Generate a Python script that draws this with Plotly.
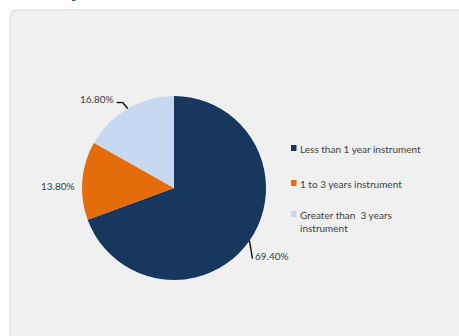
import math
import plotly.graph_objects as go

categories = ["Less than 1 year instrument", "1 to 3 years instrument", "Greater than 3 years instrument"]
legend_labels = ["Less than 1 year instrument", "1 to 3 years instrument", "Greater than  3 years<br>instrument"]
values = [69.40, 13.80, 16.80]
colors = ["#17375E", "#E46C0A", "#C6D9F1"]

W, H = 459, 336
CX, CY, R = 174, 188, 92
FONT = "Lato"
TXT = "#404040"

def px(x):
    return x / W

def py(y):
    return 1 - y / H

fig = go.Figure()
fig.add_trace(go.Pie(
    labels=categories, values=values, sort=False, direction="clockwise", rotation=0,
    marker=dict(colors=colors, line=dict(width=0)),
    textinfo="none", hoverinfo="label+percent", showlegend=False,
    domain=dict(x=[px(CX - R), px(CX + R)], y=[py(CY + R), py(CY - R)]),
))

shapes = []
# panel
r = 8
x0, y0, x1, y1 = 10, 10, 475, 350
path = (f"M {px(x0)},{py(y1)} L {px(x0)},{py(y0 + r)} Q {px(x0)},{py(y0)} {px(x0 + r)},{py(y0)} "
        f"L {px(x1)},{py(y0)} L {px(x1)},{py(y1)} Z")
shapes.append(dict(type="path", xref="paper", yref="paper", path=path,
                   fillcolor="#F0F0F0", line=dict(color="#E2E2E2", width=1.5), layer="below"))

# data labels with leader lines, positions derived from slice angles
label_style = [  # (elbow dx, elbow dy, horizontal run, text side)
    (3, 18, 0, "left"),
    (-3, 5, 0, "none"),
    (-5, -6, -6, "right"),
]
annotations = []
total = sum(values)
start = 0.0
for v, st in zip(values, label_style):
    frac = v / total
    mid = (start + frac / 2) * 2 * math.pi
    start += frac
    ex = CX + R * math.sin(mid)
    ey = CY - R * math.cos(mid)
    dx, dy, run, side = st
    txt = f"{v:.2f}%"
    if side == "none":
        annotations.append(dict(x=px(ex - 5), y=py(ey + 6), xref="paper", yref="paper",
                                text=txt, showarrow=False, xanchor="right", yanchor="middle",
                                font=dict(family=FONT, size=10, color=TXT)))
        continue
    bx, by = ex + dx, ey + dy
    shapes.append(dict(type="line", xref="paper", yref="paper", x0=px(ex), y0=py(ey), x1=px(bx), y1=py(by),
                       line=dict(color="black", width=1.3)))
    if run:
        shapes.append(dict(type="line", xref="paper", yref="paper", x0=px(bx), y0=py(by), x1=px(bx + run), y1=py(by),
                           line=dict(color="black", width=1.3)))
    tx = bx + run
    if side == "left":
        annotations.append(dict(x=px(tx + 1), y=py(by - 3), xref="paper", yref="paper", text=txt,
                                showarrow=False, xanchor="left", yanchor="middle",
                                font=dict(family=FONT, size=10, color=TXT)))
    else:
        annotations.append(dict(x=px(tx - 1), y=py(by - 4), xref="paper", yref="paper", text=txt,
                                showarrow=False, xanchor="right", yanchor="middle",
                                font=dict(family=FONT, size=10, color=TXT)))

# manual legend
leg_y = [148, 183, 214]
for lab, col, ly in zip(legend_labels, colors, leg_y):
    shapes.append(dict(type="rect", xref="paper", yref="paper", x0=px(291), x1=px(296.5),
                       y0=py(ly - 3), y1=py(ly + 3), fillcolor=col, line=dict(width=0)))
    annotations.append(dict(x=px(298), y=py(ly - 7), xref="paper", yref="paper", text=lab,
                            showarrow=False, xanchor="left", yanchor="top", align="left",
                            font=dict(family=FONT, size=10, color=TXT)))

# cut-off heading fragment at the top
annotations.append(dict(x=px(12), y=py(0), xref="paper", yref="paper", text="<b>Maturity</b>",
                        showarrow=False, xanchor="left", yanchor="bottom", yshift=-4,
                        font=dict(family="Open Sans", size=15, color="#1F4E99")))

fig.update_layout(width=W, height=H, margin=dict(l=0, r=0, t=0, b=0),
                  paper_bgcolor="white", plot_bgcolor="white",
                  shapes=shapes, annotations=annotations, showlegend=False)
fig.write_html("out.html")
